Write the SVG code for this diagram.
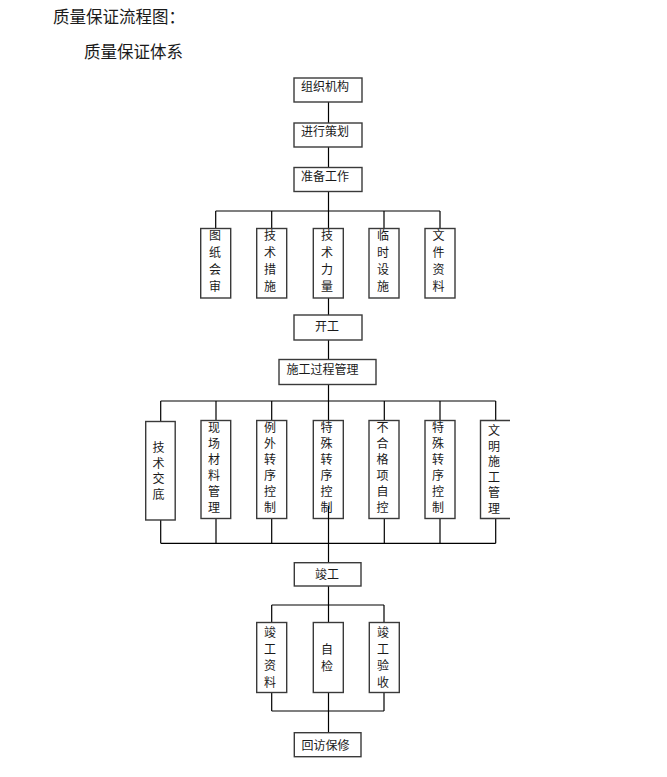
<svg xmlns="http://www.w3.org/2000/svg" width="667" height="777" viewBox="0 0 667 777">
<defs>
<style>
.bg{fill:#ffffff}
.box rect{fill:#ffffff;stroke:#3a3a3a;stroke-width:1.4}
.open path{fill:none;stroke:#3a3a3a;stroke-width:1.4}
.open rect{fill:#ffffff;stroke:none}
text{font-family:"Noto Sans CJK SC","Noto Sans CJK TC",sans-serif;fill:#1a1a1a}
.t{font-size:12px}
.v{font-size:12px;text-anchor:middle}
.title{font-size:16.5px}
#connectors path{fill:none;stroke:#000000;stroke-width:1.2}
</style>
</defs>
<rect class="bg" x="0" y="0" width="667" height="777"/>
<text class="title" x="53" y="22.5">质量保证流程图：</text>
<text class="title" x="84" y="57.5">质量保证体系</text>

<g id="connectors">
<path d="M328.5 102 V123 M328.5 147 V167.5 M328.5 191.5 V228.5"/>
<path d="M215.7 211 H440 M215.7 211 V228.5 M271.7 211 V228.5 M384 211 V228.5 M440 211 V228.5"/>
<path d="M328.5 298 V315 M328.5 340 V359.5 M328.5 384.5 V420.5"/>
<path d="M160.7 401 H495.7 M160.7 401 V421.5 M216 401 V420.5 M271.7 401 V420.5 M384.3 401 V420.5 M440 401 V420.5 M495.7 401 V420.5"/>
<path d="M160.7 543.3 H495.7 M160.7 520 V543.3 M216 518.5 V543.3 M271.7 518.5 V543.3 M384.3 518.5 V543.3 M440 518.5 V543.3 M495.7 518.5 V543.3"/>
<path d="M328.5 586 V622.5 M271.7 605 H384 M271.7 605 V622.5 M384 605 V622.5"/>
<path d="M271.7 711 H384 M271.7 692.5 V711 M384 692.5 V711 M328.5 692.5 V732.7"/>
</g>

<g id="n-zzjg" class="box"><rect x="294" y="78" width="68" height="24"/><text class="t" x="301" y="91">组织机构</text></g>
<g id="n-jxch" class="box"><rect x="294" y="123" width="68" height="24"/><text class="t" x="301" y="136">进行策划</text></g>
<g id="n-zbgz" class="box"><rect x="294" y="167.5" width="68" height="24"/><text class="t" x="301" y="181">准备工作</text></g>

<g id="n-tzhs" class="box"><rect x="200.7" y="228.5" width="30" height="69.5"/><text class="v" x="215"><tspan x="215" y="240">图</tspan><tspan x="215" y="257">纸</tspan><tspan x="215" y="274">会</tspan><tspan x="215" y="291">审</tspan></text></g>
<g id="n-jscs" class="box"><rect x="256.7" y="228.5" width="30" height="69.5"/><text class="v"><tspan x="270" y="240">技</tspan><tspan x="270" y="257">术</tspan><tspan x="270" y="274">措</tspan><tspan x="270" y="291">施</tspan></text></g>
<g id="n-jsll" class="box"><rect x="313.3" y="228.5" width="30" height="69.5"/><text class="v"><tspan x="327" y="240">技</tspan><tspan x="327" y="257">术</tspan><tspan x="327" y="274">力</tspan><tspan x="327" y="291">量</tspan></text></g>
<g id="n-lsss" class="box"><rect x="369" y="228.5" width="30" height="69.5"/><text class="v"><tspan x="383" y="240">临</tspan><tspan x="383" y="257">时</tspan><tspan x="383" y="274">设</tspan><tspan x="383" y="291">施</tspan></text></g>
<g id="n-wjzl" class="box"><rect x="425" y="228.5" width="30" height="69.5"/><text class="v"><tspan x="438.5" y="240">文</tspan><tspan x="438.5" y="257">件</tspan><tspan x="438.5" y="274">资</tspan><tspan x="438.5" y="291">料</tspan></text></g>

<g id="n-kg" class="box"><rect x="294" y="315" width="68" height="25"/><text class="t" x="315" y="331">开工</text></g>
<g id="n-sggc" class="box"><rect x="279" y="359.5" width="97" height="25"/><text class="t" x="286.5" y="373.5">施工过程管理</text></g>

<g id="n-jsjd" class="box"><rect x="145.7" y="421.5" width="29.5" height="98.5"/><text class="v"><tspan x="158.5" y="452">技</tspan><tspan x="158.5" y="467.5">术</tspan><tspan x="158.5" y="483">交</tspan><tspan x="158.5" y="498.5">底</tspan></text></g>
<g id="n-xcclgl" class="box"><rect x="201" y="420.5" width="29.7" height="98"/><text class="v"><tspan x="214" y="432">现</tspan><tspan x="214" y="448">场</tspan><tspan x="214" y="464">材</tspan><tspan x="214" y="480">料</tspan><tspan x="214" y="496">管</tspan><tspan x="214" y="512">理</tspan></text></g>
<g id="n-lwzxkz" class="box"><rect x="256.7" y="420.5" width="30" height="98"/><text class="v"><tspan x="270" y="432">例</tspan><tspan x="270" y="448">外</tspan><tspan x="270" y="464">转</tspan><tspan x="270" y="480">序</tspan><tspan x="270" y="496">控</tspan><tspan x="270" y="512">制</tspan></text></g>
<g id="n-tszxkz1" class="box"><rect x="313.3" y="420.5" width="30" height="98"/><text class="v"><tspan x="326.5" y="432">特</tspan><tspan x="326.5" y="448">殊</tspan><tspan x="326.5" y="464">转</tspan><tspan x="326.5" y="480">序</tspan><tspan x="326.5" y="496">控</tspan><tspan x="326.5" y="512">制</tspan></text></g>
<g id="n-bhgxzk" class="box"><rect x="369" y="420.5" width="30" height="98"/><text class="v"><tspan x="382.5" y="432">不</tspan><tspan x="382.5" y="448">合</tspan><tspan x="382.5" y="464">格</tspan><tspan x="382.5" y="480">项</tspan><tspan x="382.5" y="496">自</tspan><tspan x="382.5" y="512">控</tspan></text></g>
<g id="n-tszxkz2" class="box"><rect x="425" y="420.5" width="30" height="98"/><text class="v"><tspan x="438" y="432">特</tspan><tspan x="438" y="448">殊</tspan><tspan x="438" y="464">转</tspan><tspan x="438" y="480">序</tspan><tspan x="438" y="496">控</tspan><tspan x="438" y="512">制</tspan></text></g>
<g id="n-wmsggl" class="open"><rect x="480.5" y="420.5" width="29.5" height="98"/><path d="M510 420.5 H480.5 V518.5 H510"/><text class="v"><tspan x="494" y="435">文</tspan><tspan x="494" y="450.5">明</tspan><tspan x="494" y="466">施</tspan><tspan x="494" y="481.5">工</tspan><tspan x="494" y="497">管</tspan><tspan x="494" y="512.5">理</tspan></text></g>

<g id="connectors-overlay"><path d="M328.5 506 V562.7" fill="none" stroke="#000000" stroke-width="1.2"/></g>

<g id="n-jg" class="box"><rect x="294.3" y="562.7" width="66.7" height="23.3"/><text class="t" x="315" y="579">竣工</text></g>

<g id="n-jgzl" class="box"><rect x="256.7" y="622.5" width="30" height="70"/><text class="v"><tspan x="270" y="637">竣</tspan><tspan x="270" y="653.5">工</tspan><tspan x="270" y="670">资</tspan><tspan x="270" y="687">料</tspan></text></g>
<g id="n-zj" class="box"><rect x="313.3" y="622.5" width="30" height="70"/><text class="v"><tspan x="327" y="654">自</tspan><tspan x="327" y="671">检</tspan></text></g>
<g id="n-jgys" class="box"><rect x="369.3" y="622.5" width="30" height="70"/><text class="v"><tspan x="383" y="637">竣</tspan><tspan x="383" y="653.5">工</tspan><tspan x="383" y="670">验</tspan><tspan x="383" y="687">收</tspan></text></g>

<g id="n-hfbx" class="box"><rect x="294.3" y="732.7" width="66.7" height="24"/><text class="t" x="301.5" y="750">回访保修</text></g>
</svg>
